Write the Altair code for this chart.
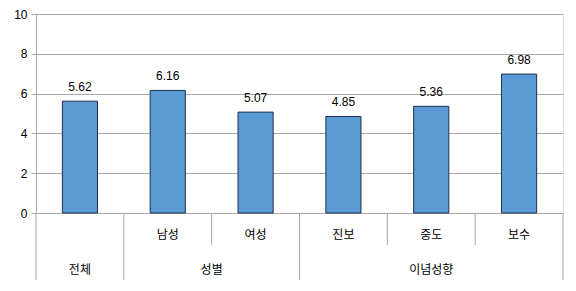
import altair as alt
import pandas as pd

categories = ["", "남성", "여성", "진보", "중도", "보수"]
values = [5.62, 6.16, 5.07, 4.85, 5.36, 6.98]
value_labels = ["5.62", "6.16", "5.07", "4.85", "5.36", "6.98"]
groups = ["전체", "성별", "이념성향"]
group_centers = [0.5, 2.0, 4.5]
full_separators = [0, 1, 3, 6]
short_separators = [2, 4, 5]
y_ticks = [0, 2, 4, 6, 8, 10]

FONT = "Liberation Sans"
KFONT = "Noto Sans CJK KR"
GRID = "#A8A8A8"

bars_df = pd.DataFrame({
    "cat": categories,
    "x0": [i + 0.3 for i in range(len(values))],
    "x1": [i + 0.7 for i in range(len(values))],
    "xc": [i + 0.5 for i in range(len(values))],
    "v": values,
    "base": [0] * len(values),
    "lbl": value_labels,
})
groups_df = pd.DataFrame({"g": groups, "xc": group_centers})
full_df = pd.DataFrame({"x": full_separators})
short_df = pd.DataFrame({"x": short_separators})

xscale = alt.Scale(domain=[0, 6], nice=False, zero=False)
yscale = alt.Scale(domain=[0, 10], nice=False, padding=0)

yaxis = alt.Axis(
    values=y_ticks, tickCount=6, title=None, grid=True, gridColor=GRID,
    domainColor=GRID, tickColor=GRID, tickSize=5, labelFont=FONT,
    labelFontSize=12, labelColor="#000000", labelPadding=4,
    labelOverlap=False, labelFlush=False,
)

bars = alt.Chart(bars_df).mark_bar(
    fill="#5B9BD5", stroke="#1F2F4A", strokeWidth=1
).encode(
    x=alt.X("x0:Q", scale=xscale, axis=None),
    x2="x1:Q",
    y=alt.Y("v:Q", scale=yscale, axis=yaxis),
    y2="base:Q",
)

value_text = alt.Chart(bars_df).mark_text(
    font=FONT, fontSize=12, color="#000000", baseline="bottom", dy=-7
).encode(
    x=alt.X("xc:Q", scale=xscale, axis=None),
    y=alt.Y("v:Q", scale=yscale, axis=yaxis),
    text="lbl:N",
)

cat_text = alt.Chart(bars_df).mark_text(
    font=KFONT, fontSize=12, color="#000000", baseline="middle"
).encode(
    x=alt.X("xc:Q", scale=xscale, axis=None),
    y=alt.value(221),
    text="cat:N",
)

group_text = alt.Chart(groups_df).mark_text(
    font=KFONT, fontSize=12, color="#000000", baseline="middle"
).encode(
    x=alt.X("xc:Q", scale=xscale, axis=None),
    y=alt.value(256),
    text="g:N",
)

full_rules = alt.Chart(full_df).mark_rule(color=GRID, strokeWidth=1).encode(
    x=alt.X("x:Q", scale=xscale, axis=None),
    y=alt.value(199),
    y2=alt.value(266),
)

short_rules = alt.Chart(short_df).mark_rule(color=GRID, strokeWidth=1).encode(
    x=alt.X("x:Q", scale=xscale, axis=None),
    y=alt.value(199),
    y2=alt.value(231),
)

chart = alt.layer(
    bars, value_text, full_rules, short_rules, cat_text, group_text
).properties(
    width=527, height=199,
    autosize=alt.AutoSizeParams(type="none"),
    padding={"left": 36, "top": 14, "right": 13, "bottom": 78},
).configure_view(stroke=None).configure(background="white")

chart.save("out.html", embed_options={"renderer": "svg", "actions": False})
